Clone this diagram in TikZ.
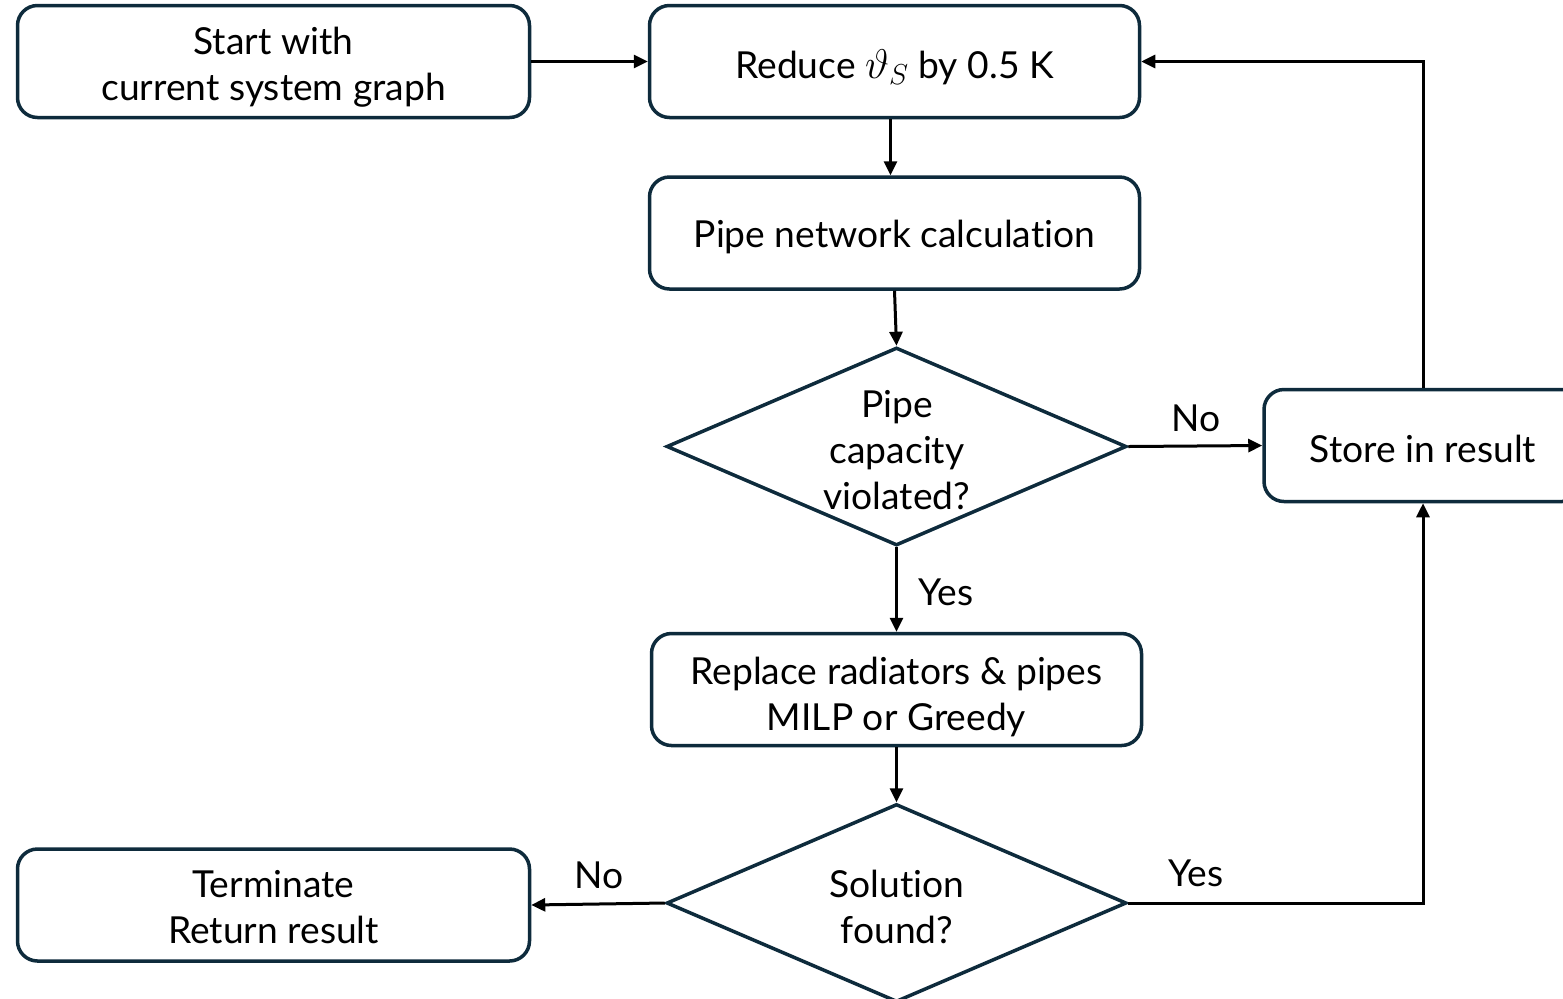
\documentclass[tikz,border=0pt]{standalone}
\usepackage{fontspec}
\setmainfont{Lato}[Ligatures={NoCommon,NoContextual}]
\usetikzlibrary{shapes.geometric,arrows.meta}
\definecolor{bord}{HTML}{0E2B3C}
\begin{document}
\begin{tikzpicture}[x=0.5pt,y=-0.5pt,
 lfont/.style={font=\fontsize{18.6}{23}\selectfont},
 box/.style={draw=bord, line width=1.75pt, rounded corners=10pt, fill=white, minimum height=56pt, inner sep=0pt},
 dia/.style={draw=bord, line width=1.75pt, diamond, minimum width=230pt, minimum height=99pt, inner sep=0pt},
 txt/.style={align=center, lfont, inner sep=0pt},
 arr/.style={line width=1.5pt, -{Triangle[length=7pt,width=6.5pt]}},
 lbl/.style={lfont, inner sep=0pt}]
\useasboundingbox (0,0) rectangle (1563,998);
\node[box, minimum width=256pt, label={[txt,yshift=-3pt]center:Start with\\current system graph}] (start) at (273.5,61.5) {};
\node[box, minimum width=245pt, label={[txt,yshift=-3pt]center:Reduce {\fontsize{20}{23}\selectfont$\vartheta_S$}\ by 0.5 K}] (reduce) at (894.5,61.5) {};
\node[box, minimum width=245pt, label={[txt,yshift=-2pt]center:Pipe network calculation}] (pipe) at (894.5,233) {};
\node[dia] (d1) at (896.5,446.5) {};
\node[txt] (d1t) at (897,450) {Pipe\\capacity\\violated?};
\node[box, minimum width=159pt, label={[txt,yshift=-1.5pt]center:Store in result}] (store) at (1423,445.5) {};
\node[box, minimum width=245pt, label={[txt,yshift=-3.5pt]center:Replace radiators \& pipes\\MILP or Greedy}] (replace) at (896.5,689.5) {};
\node[dia] (d2) at (896.5,903) {};
\node[txt] (d2t) at (897,907) {Solution\\found?};
\node[box, minimum width=256pt, label={[txt,yshift=-1pt]center:Terminate\\Return result}] (term) at (273.5,905) {};
\draw[arr] (start.east) -- (reduce.west);
\draw[arr] ([xshift=-2pt]reduce.south) -- ([xshift=-2pt]pipe.north);
\draw[arr] (pipe.south) -- (d1.north);
\draw[arr] (d1.east) -- (store.west);
\draw[arr] (d1.south) -- (replace.north);
\draw[arr] (replace.south) -- (d2.north);
\draw[arr] (d2.west) -- (term.east);
\draw[arr] (d2.east) -| (store.south);
\draw[arr] (store.north) |- (reduce.east);
\node[lbl] (l1) at (1196,418) {No};
\node[lbl] (l2) at (946,592) {Yes};
\node[lbl] (l3) at (599,875) {No};
\node[lbl] (l4) at (1196,873) {Yes};
\end{tikzpicture}
\end{document}
